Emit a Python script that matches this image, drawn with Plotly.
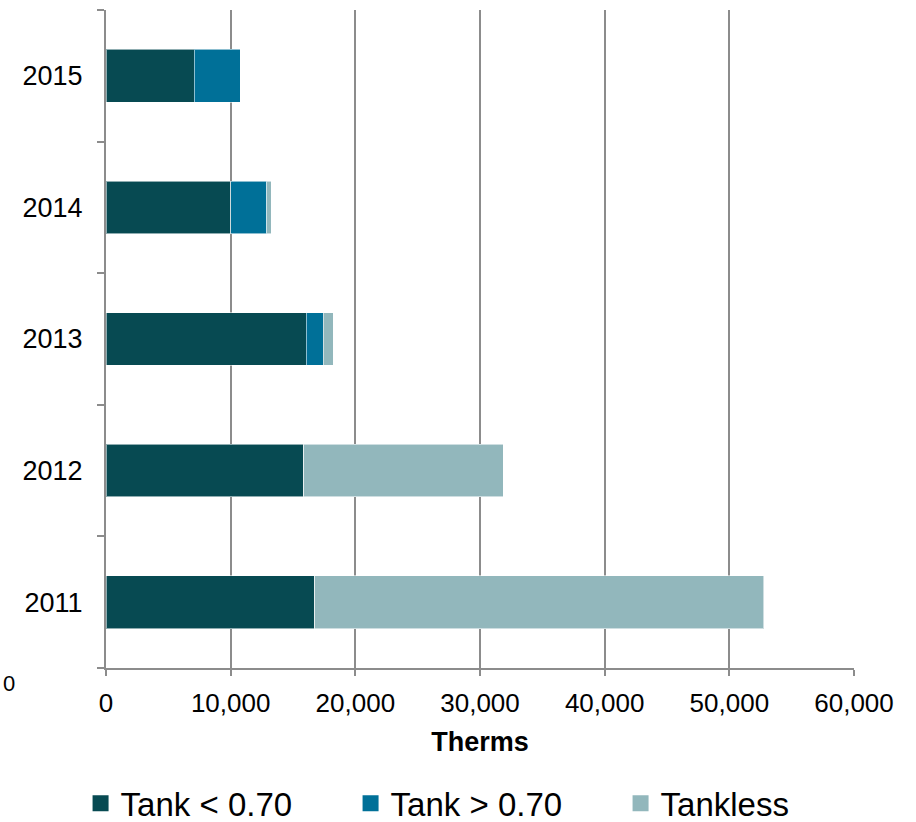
import plotly.graph_objects as go

# Annual savings by water heater type (therms)
years = ["2011", "2012", "2013", "2014", "2015"]
tank_low = [16760, 15860, 16070, 10020, 7080]
tank_high = [0, 0, 1360, 2890, 3670]
tankless = [36020, 16010, 800, 350, 0]

series_names = ["Tank < 0.70", "Tank > 0.70", "Tankless"]
series_colors = ["#074A52", "#007098", "#92B7BC"]
x_ticks = [0, 10000, 20000, 30000, 40000, 50000, 60000]

FONT = "Liberation Sans, Arial, sans-serif"
GRID = "#8C8C8C"

fig = go.Figure()
for name, vals, color in zip(series_names, [tank_low, tank_high, tankless], series_colors):
    fig.add_trace(go.Bar(
        y=years, x=vals, name=name, orientation="h", showlegend=False,
        marker=dict(color=color, line=dict(color="rgba(255,255,255,0.55)", width=1)),
    ))

# Legend entries with larger square swatches
for name, color in zip(series_names, series_colors):
    fig.add_trace(go.Scatter(
        x=[None], y=[None], name=name, mode="markers",
        marker=dict(symbol="square", size=20, color=color),
    ))

fig.update_layout(
    barmode="stack",
    bargap=0.6,
    width=916, height=822,
    margin=dict(l=106, r=62, t=10, b=154, autoexpand=False),
    paper_bgcolor="white", plot_bgcolor="white",
    font=dict(family=FONT, size=27, color="black"),
    showlegend=True,
    legend=dict(
        orientation="h", x=-0.034, xanchor="left", y=-0.163, yanchor="top",
        font=dict(size=33), entrywidth=225, entrywidthmode="pixels",
        itemwidth=30, traceorder="normal",
    ),
)

fig.update_xaxes(
    range=[0, 60000], tickvals=x_ticks, tickformat=",",
    showgrid=True, gridcolor=GRID, gridwidth=2,
    showline=True, linecolor=GRID, linewidth=2,
    ticks="outside", ticklen=6, tickcolor=GRID, tickwidth=2,
    ticklabelstandoff=5,
    tickfont=dict(size=26), zeroline=False,
    title=dict(text="<b>Therms</b>", font=dict(size=27), standoff=15),
)
fig.update_yaxes(
    type="category", categoryorder="array", categoryarray=years,
    showgrid=False, showline=True, linecolor=GRID, linewidth=2,
    ticks="outside", tickson="boundaries", ticklen=7, tickcolor=GRID, tickwidth=2,
    ticklabelstandoff=16, tickfont=dict(size=27),
)

# Lone label near the lower left edge
fig.add_annotation(
    text="0", xref="paper", yref="paper", x=-0.1405, y=-0.0228,
    xanchor="left", yanchor="middle", showarrow=False, font=dict(size=22),
)

fig.write_html("out.html")
